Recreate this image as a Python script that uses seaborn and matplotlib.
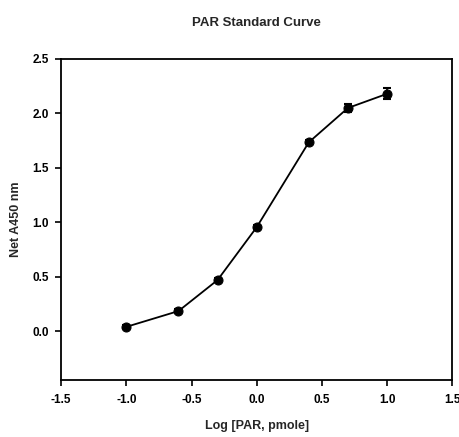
import numpy as np
import pandas as pd
import matplotlib
matplotlib.use("Agg")
import matplotlib.pyplot as plt
import seaborn as sns

# values
log_par = [-1.0, -0.6, -0.3, 0.0, 0.4, 0.7, 1.0]
net_a450 = [0.04, 0.185, 0.47, 0.955, 1.735, 2.05, 2.18]
err = [0.015, 0.015, 0.02, 0.02, 0.02, 0.035, 0.05]

df = pd.DataFrame({"x": log_par, "y": net_a450, "err": err})

sns.set_style("white")
plt.rcParams['font.family'] = ['Liberation Sans', 'DejaVu Sans']
plt.rcParams['font.weight'] = 'bold'

fig, ax = plt.subplots(figsize=(4.6, 4.37), dpi=100)
fig.subplots_adjust(left=0.133, right=0.983, top=0.865, bottom=0.13)

ax.errorbar(df["x"], df["y"], yerr=df["err"], fmt="none", ecolor="black",
            elinewidth=1.2, capsize=3, capthick=1.5)
sns.lineplot(data=df, x="x", y="y", ax=ax, color="black", linewidth=1.3,
             marker="o", markersize=6.5, markeredgecolor="black")

ax.set_xlim(-1.5, 1.5)
ax.set_ylim(-0.45, 2.5)
xt = np.arange(-1.5, 1.51, 0.5)
yt = np.arange(0, 2.51, 0.5)
ax.set_xticks(xt)
ax.set_yticks(yt)
ax.set_xticklabels([f"{v:.1f}" for v in xt])
ax.set_yticklabels([f"{v:.1f}" for v in yt])
ax.tick_params(axis="both", direction="out", length=4, width=1.2, labelsize=8.5,
               left=True, bottom=True, colors="black")
ax.tick_params(axis="x", pad=6)
ax.tick_params(axis="y", pad=5)
for s in ax.spines.values():
    s.set_color("black")
    s.set_linewidth(1.3)

ax.set_xlabel("Log [PAR, pmole]", fontsize=9, fontweight="bold", labelpad=10)
ax.set_ylabel("Net A450 nm", fontsize=9, fontweight="bold", labelpad=7)
ax.set_title("PAR Standard Curve", fontsize=9.5, fontweight="bold", pad=24)

fig.savefig("out.png", dpi=100)
